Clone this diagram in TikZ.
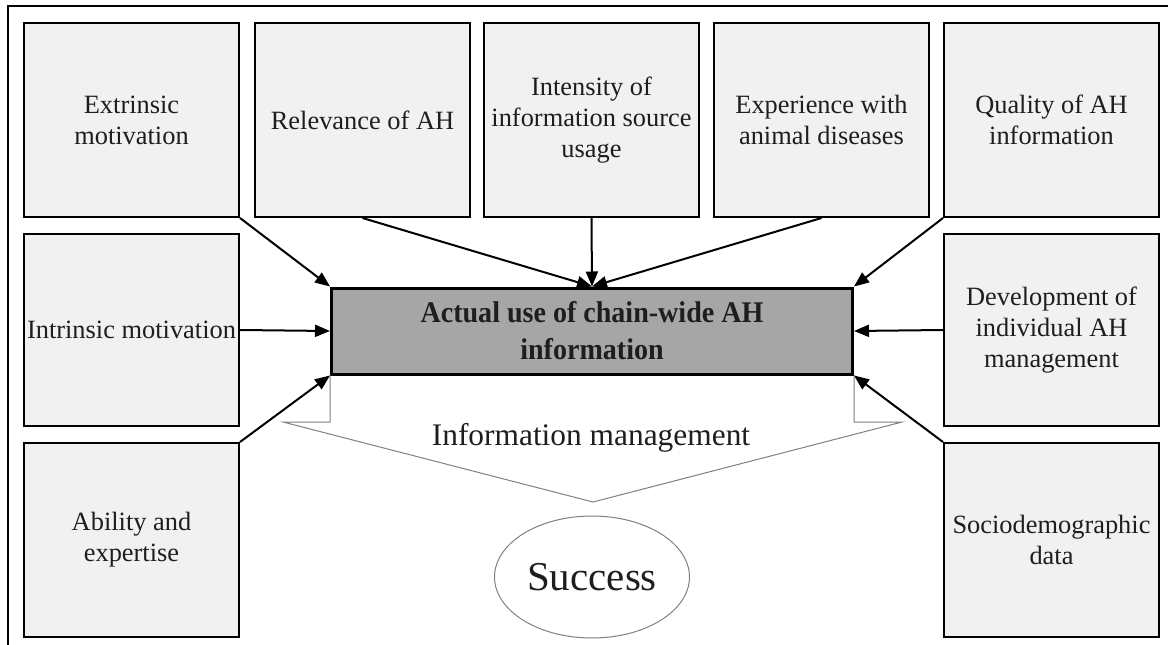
\documentclass[tikz,border=0pt]{standalone}
\usepackage{fontspec}
\setmainfont{Liberation Serif}
\newfontfamily\corefont{Liberation Serif}[FakeStretch=0.935]
\usetikzlibrary{arrows.meta,shapes.geometric}
\definecolor{boxfill}{HTML}{F1F1F1}
\definecolor{mainfill}{HTML}{A6A6A6}
\definecolor{txt}{HTML}{1E1E1E}
\definecolor{thingray}{HTML}{808080}
\begin{document}
\begin{tikzpicture}[x=1pt,y=-1pt,
  factor/.style={draw=black, line width=2pt, fill=boxfill, minimum width=215pt, minimum height=194pt, inner sep=0pt, align=center, text=txt, font=\fontsize{26.4}{31}\selectfont},
  core/.style={draw=black, line width=3pt, fill=mainfill, minimum width=521pt, minimum height=86pt, inner sep=0pt, align=center, text=txt, font=\corefont\fontsize{30}{37}\selectfont\bfseries},
  link/.style={line width=2pt, -{Triangle[length=15pt,width=12pt]}},
  callout/.style={draw=thingray, line width=1pt},
]
\useasboundingbox (0,0) rectangle (1168,645);
\draw[line width=2pt] (8,645) -- (8,6) -- (1168,6);

\node[factor] (ext)  at (131.5,120) {Extrinsic\\motivation};
\node[factor] (rel)  at (362.5,120) {Relevance of AH};
\node[factor] (int)  at (591.5,120) {Intensity of\\information source\\usage};
\node[factor] (exp)  at (821.5,120) {Experience with\\animal diseases};
\node[factor] (qual) at (1051.5,120) {Quality of AH\\information};
\node[factor, minimum height=192pt] (intr) at (131.5,330) {Intrinsic motivation};
\node[factor] (abil) at (131.5,540) {Ability and\\expertise};
\node[factor, minimum height=192pt] (dev)  at (1051.5,330) {Development of\\individual AH\\management};
\node[factor] (soc)  at (1051.5,540) {Sociodemographic\\data};

\node[core] (main) at (592,331) {Actual use of chain-wide AH\\information};

\draw[callout] (330,375) -- (330,422) -- (283,422) -- (593,502) -- (902,422) -- (854,422) -- (854,375);
\node[text=txt, font=\fontsize{31.4}{36}\selectfont, inner sep=0pt] (im) at (591,438) {Information management};
\node[ellipse, draw=thingray, line width=1pt, minimum width=195pt, minimum height=122pt, inner sep=0pt, text=txt, font=\fontsize{41}{44}\selectfont] (succ) at (592,577) {Success};

\draw[link] (ext.south east) -- (main.north west);
\draw[link] (rel.south) -- (main.north);
\draw[link] (int.south) -- (main.north);
\draw[link] (exp.south) -- (main.north);
\draw[link] (qual.south west) -- (main.north east);
\draw[link] (intr.east) -- (main.west);
\draw[link] (dev.west) -- (main.east);
\draw[link] (abil.north east) -- (main.south west);
\draw[link] (soc.north west) -- (main.south east);
\end{tikzpicture}
\end{document}
